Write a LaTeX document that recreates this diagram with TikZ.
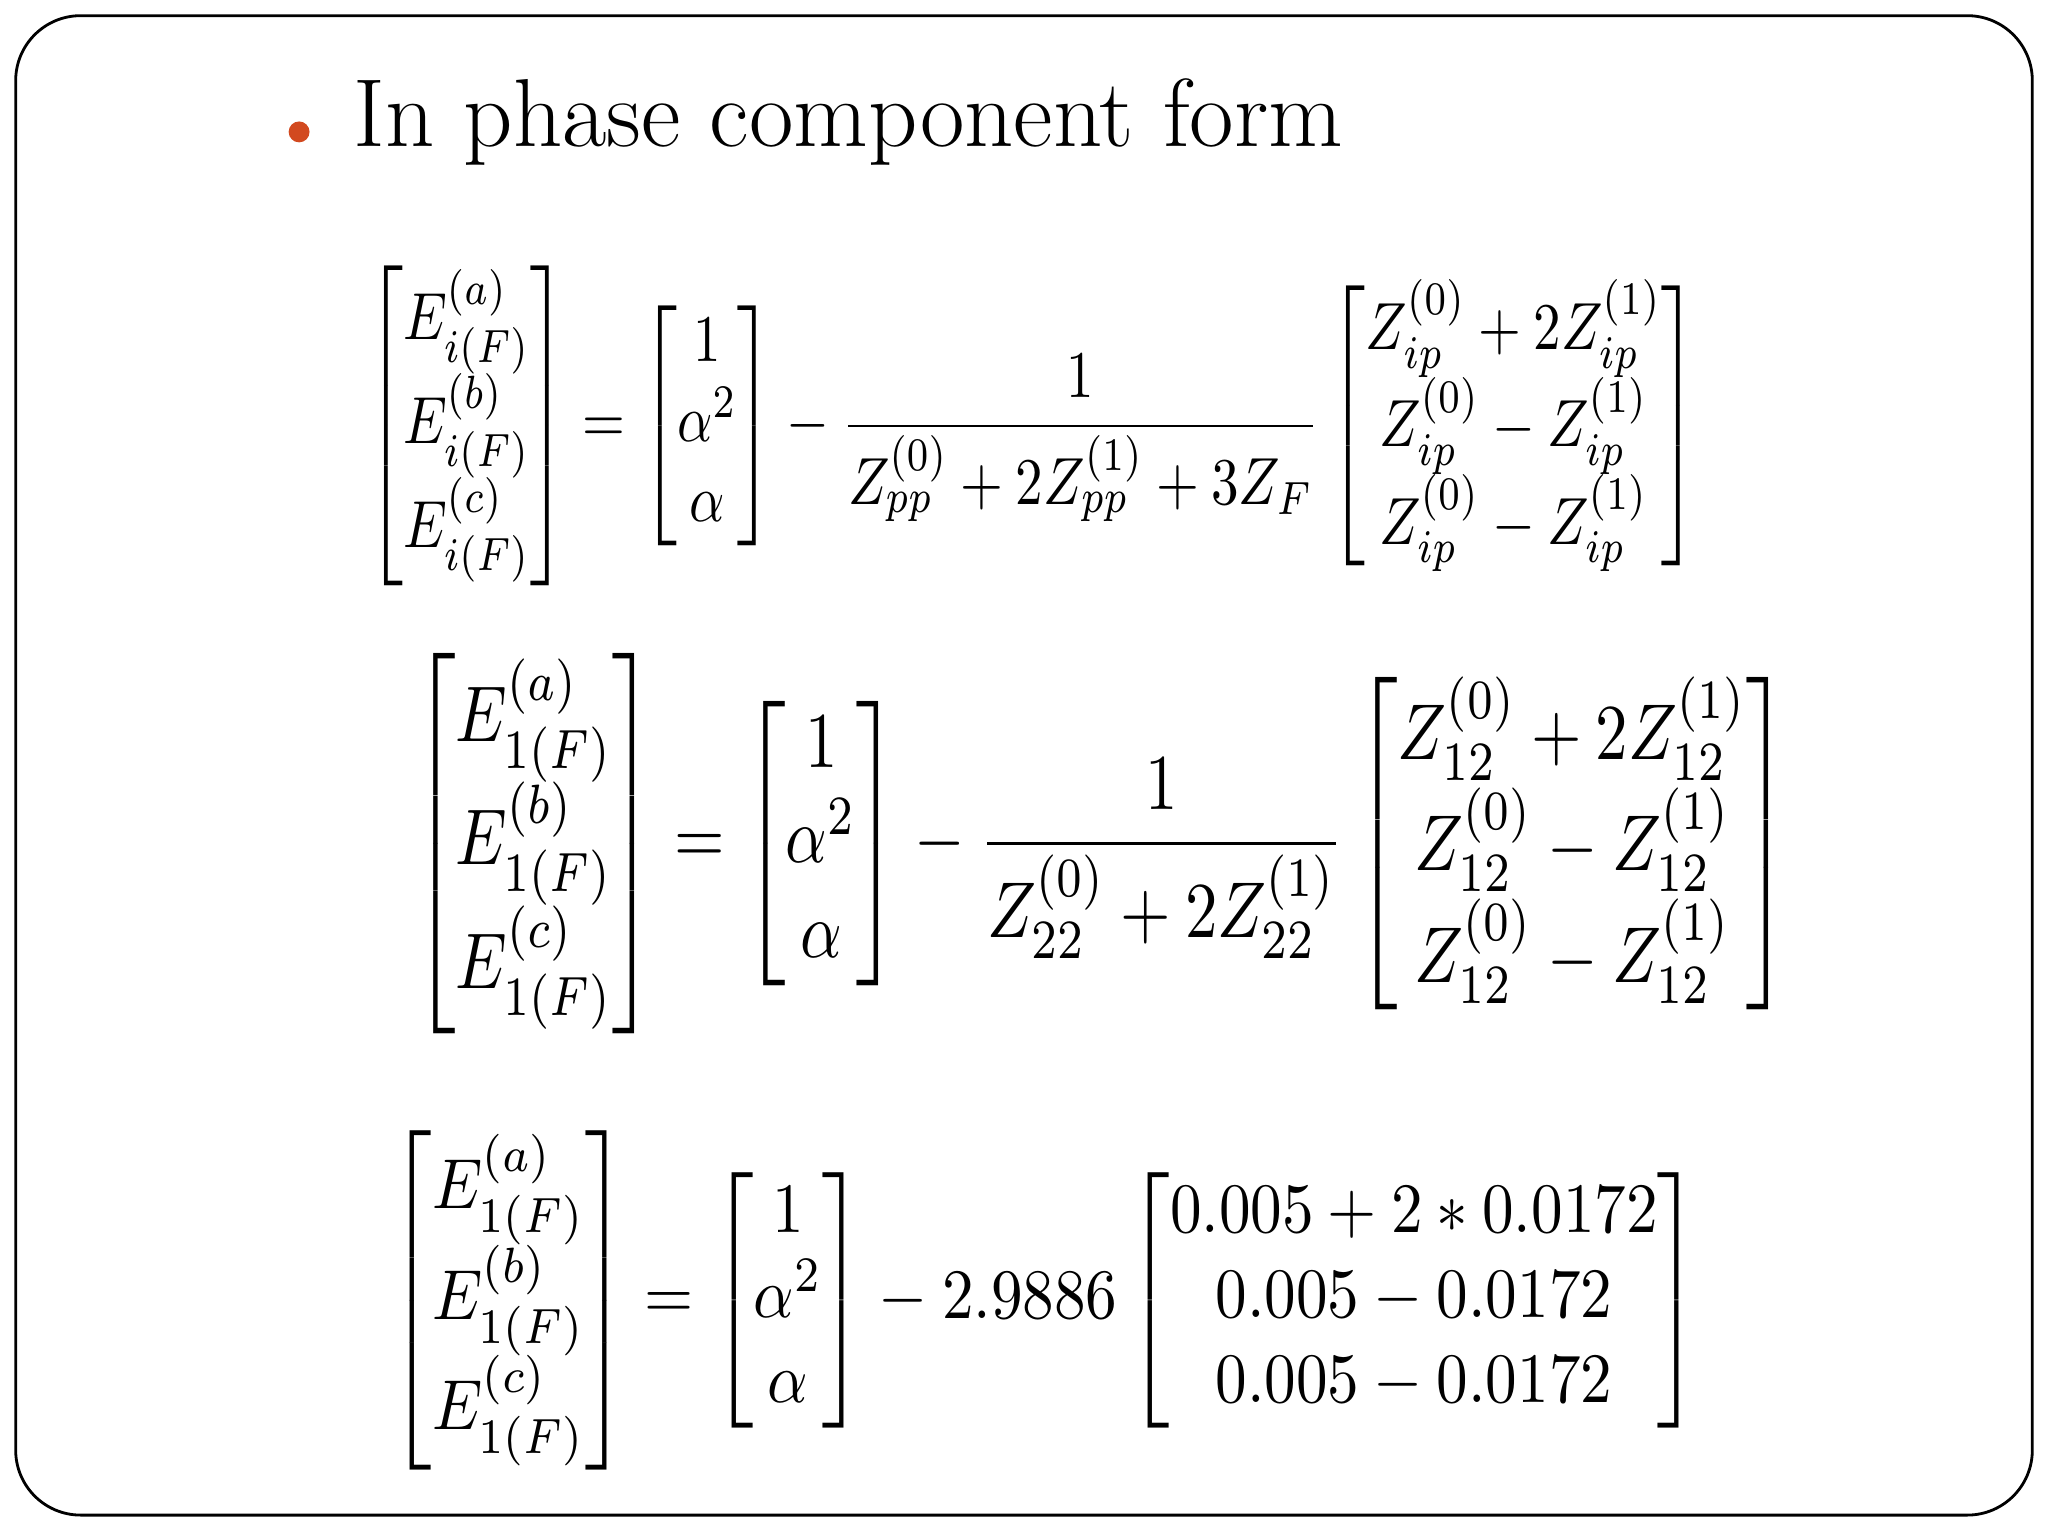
\documentclass[tikz,border=0pt]{standalone}
\usepackage{amsmath}
\usepackage{graphicx}
\definecolor{bul}{HTML}{D2491F}
\begin{document}
\begin{tikzpicture}[x=0.01306cm,y=-0.01306cm,
  eq/.style={anchor=north west,inner sep=0pt}]
\useasboundingbox (0,0) rectangle (1568,1176);
\draw[line width=0.8pt,rounded corners=0.65cm] (12,12) rectangle (1556,1160);
\fill[bul] (229,101) circle (8);
\node[anchor=base west,inner sep=0pt,font=\fontsize{27.5}{30}\selectfont] (title) at (270,112) {In phase component form};
\node[eq] (e1) at (280,203) {\resizebox*{13.32cm}{3.2cm}{$\begin{bmatrix}E_{i(F)}^{(a)}\\E_{i(F)}^{(b)}\\E_{i(F)}^{(c)}\end{bmatrix}=\begin{bmatrix}1\\\alpha^2\\\alpha\end{bmatrix}-\dfrac{1}{Z_{pp}^{(0)}+2Z_{pp}^{(1)}+3Z_F}\begin{bmatrix}Z_{ip}^{(0)}+2Z_{ip}^{(1)}\\Z_{ip}^{(0)}-Z_{ip}^{(1)}\\Z_{ip}^{(0)}-Z_{ip}^{(1)}\end{bmatrix}$}};
\node[eq] (e2) at (315,500) {\resizebox*{13.78cm}{3.8cm}{$\begin{bmatrix}E_{1(F)}^{(a)}\\E_{1(F)}^{(b)}\\E_{1(F)}^{(c)}\end{bmatrix}=\begin{bmatrix}1\\\alpha^2\\\alpha\end{bmatrix}-\dfrac{1}{Z_{22}^{(0)}+2Z_{22}^{(1)}}\begin{bmatrix}Z_{12}^{(0)}+2Z_{12}^{(1)}\\Z_{12}^{(0)}-Z_{12}^{(1)}\\Z_{12}^{(0)}-Z_{12}^{(1)}\end{bmatrix}$}};
\node[eq] (e3) at (298,865) {\resizebox*{13.1cm}{3.4cm}{$\begin{bmatrix}E_{1(F)}^{(a)}\\E_{1(F)}^{(b)}\\E_{1(F)}^{(c)}\end{bmatrix}=\begin{bmatrix}1\\\alpha^2\\\alpha\end{bmatrix}-2.9886\begin{bmatrix}0.005+2*0.0172\\0.005-0.0172\\0.005-0.0172\end{bmatrix}$}};
\end{tikzpicture}
\end{document}
